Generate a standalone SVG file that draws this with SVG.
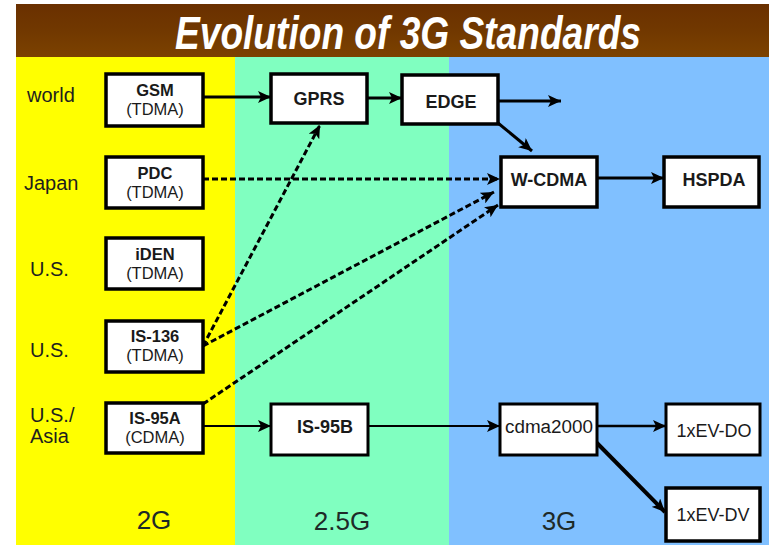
<svg xmlns="http://www.w3.org/2000/svg" width="769" height="545" viewBox="0 0 769 545">
  <defs>
    <linearGradient id="bar" x1="0" y1="0" x2="0" y2="1">
      <stop offset="0" stop-color="#6a3000"/>
      <stop offset="0.5" stop-color="#713800"/>
      <stop offset="1" stop-color="#7c4200"/>
    </linearGradient>
    <marker id="head" markerUnits="userSpaceOnUse" markerWidth="14" markerHeight="12" refX="13" refY="6" orient="auto">
      <path d="M0,0 L13,6 L0,12 L3,6 z" fill="#000"/>
    </marker>
  </defs>
  <style>
    .box { fill: #fff; stroke: #000; stroke-width: 3.5; }
    .thin { stroke-width: 3; }
    .lbl { font-family: "Liberation Sans", Arial, sans-serif; font-size: 18px; fill: #1a1a1a; text-anchor: middle; }
    .two { font-size: 16.5px; }
    .b { font-weight: bold; }
    .side { font-family: "Liberation Sans", Arial, sans-serif; font-size: 20px; fill: #1e1e1e; }
    .gen { font-family: "Liberation Sans", Arial, sans-serif; font-size: 26px; fill: #1e2a28; text-anchor: middle; }
    .link { fill: none; stroke: #000; stroke-width: 3; marker-end: url(#head); }
    .dash { stroke-dasharray: 6 3; }
    .light { stroke-width: 2; }
  </style>

  <!-- backdrop: generation bands and title bar -->
  <rect x="0" y="0" width="769" height="545" fill="#fff"/>
  <rect x="16" y="57" width="219" height="488" fill="#ffff00"/>
  <rect x="235" y="57" width="214" height="488" fill="#80ffc0"/>
  <rect x="449" y="57" width="320" height="488" fill="#80c0ff"/>
  <rect x="16" y="4" width="753" height="53" fill="url(#bar)"/>
  <text x="408" y="49" fill="#fff" font-family="'Liberation Sans', Arial, sans-serif" font-size="47" font-weight="bold" font-style="italic" textLength="466" lengthAdjust="spacingAndGlyphs" text-anchor="middle">Evolution of 3G Standards</text>

  <!-- region labels -->
  <text class="side" x="27" y="102">world</text>
  <text class="side" x="24" y="190">Japan</text>
  <text class="side" x="30" y="276">U.S.</text>
  <text class="side" x="30" y="357">U.S.</text>
  <text class="side" x="30" y="422">U.S./</text>
  <text class="side" x="30" y="443">Asia</text>

  <!-- generation labels -->
  <text class="gen" x="154" y="529">2G</text>
  <text class="gen" x="342" y="530">2.5G</text>
  <text class="gen" x="559" y="530" fill="#1e2838">3G</text>

  <!-- connectors -->
  <g id="connectors">
    <line class="link" x1="203" y1="97" x2="271" y2="97"/>
    <line class="link" x1="367" y1="98" x2="402" y2="98"/>
    <line class="link" x1="498" y1="101" x2="561" y2="101"/>
    <line class="link" x1="498" y1="123" x2="532" y2="151"/>
    <line class="link" x1="597" y1="178" x2="664" y2="178"/>
    <line class="link dash" x1="203" y1="179" x2="500" y2="179"/>
    <line class="link dash" x1="203" y1="346" x2="320" y2="125"/>
    <line class="link dash" x1="203" y1="346" x2="494" y2="192"/>
    <line class="link dash" x1="203" y1="404" x2="498" y2="205"/>
    <line class="link light" x1="203" y1="426" x2="271" y2="426"/>
    <line class="link light" x1="368" y1="426" x2="500" y2="426"/>
    <line class="link" x1="597" y1="426" x2="666" y2="426" style="stroke-width:2.5"/>
    <line class="link" x1="594" y1="440" x2="665" y2="512" style="stroke-width:4"/>
  </g>

  <!-- 2G systems -->
  <g id="gsm">
    <rect class="box" x="106" y="74" width="97" height="52"/>
    <text class="lbl two b" x="155" y="96">GSM</text>
    <text class="lbl two" x="155" y="115">(TDMA)</text>
  </g>
  <g id="pdc">
    <rect class="box" x="106" y="157" width="97" height="51"/>
    <text class="lbl two b" x="155" y="179">PDC</text>
    <text class="lbl two" x="155" y="198">(TDMA)</text>
  </g>
  <g id="iden">
    <rect class="box" x="106" y="238" width="97" height="51"/>
    <text class="lbl two b" x="155" y="260">iDEN</text>
    <text class="lbl two" x="155" y="279">(TDMA)</text>
  </g>
  <g id="is136">
    <rect class="box" x="106" y="321" width="97" height="51"/>
    <text class="lbl two b" x="155" y="342">IS-136</text>
    <text class="lbl two" x="155" y="361">(TDMA)</text>
  </g>
  <g id="is95a">
    <rect class="box" x="106" y="403" width="97" height="50"/>
    <text class="lbl two b" x="155" y="424">IS-95A</text>
    <text class="lbl two" x="155" y="443">(CDMA)</text>
  </g>

  <!-- 2.5G systems -->
  <g id="gprs">
    <rect class="box" x="271" y="74" width="96" height="49"/>
    <text class="lbl b" x="319" y="105">GPRS</text>
  </g>
  <g id="edge">
    <rect class="box" x="402" y="75" width="96" height="49"/>
    <text class="lbl b" x="451" y="108">EDGE</text>
  </g>
  <g id="is95b">
    <rect class="box thin" x="271" y="404" width="97" height="51"/>
    <text class="lbl b" x="325" y="433">IS-95B</text>
  </g>

  <!-- 3G systems -->
  <g id="wcdma">
    <rect class="box" x="501" y="157" width="96" height="50"/>
    <text class="lbl b" x="549" y="186">W-CDMA</text>
  </g>
  <g id="hspda">
    <rect class="box" x="664" y="157" width="95" height="50"/>
    <text class="lbl b" x="714" y="186">HSPDA</text>
  </g>
  <g id="cdma2000">
    <rect class="box thin" x="500" y="404" width="97" height="51"/>
    <text class="lbl" x="549" y="433" textLength="88" lengthAdjust="spacingAndGlyphs">cdma2000</text>
  </g>
  <g id="evdo">
    <rect class="box thin" x="666" y="404" width="94" height="51"/>
    <text class="lbl" x="714" y="437">1xEV-DO</text>
  </g>
  <g id="evdv">
    <rect class="box" x="666" y="488" width="94" height="53"/>
    <text class="lbl" x="713" y="521">1xEV-DV</text>
  </g>
</svg>
